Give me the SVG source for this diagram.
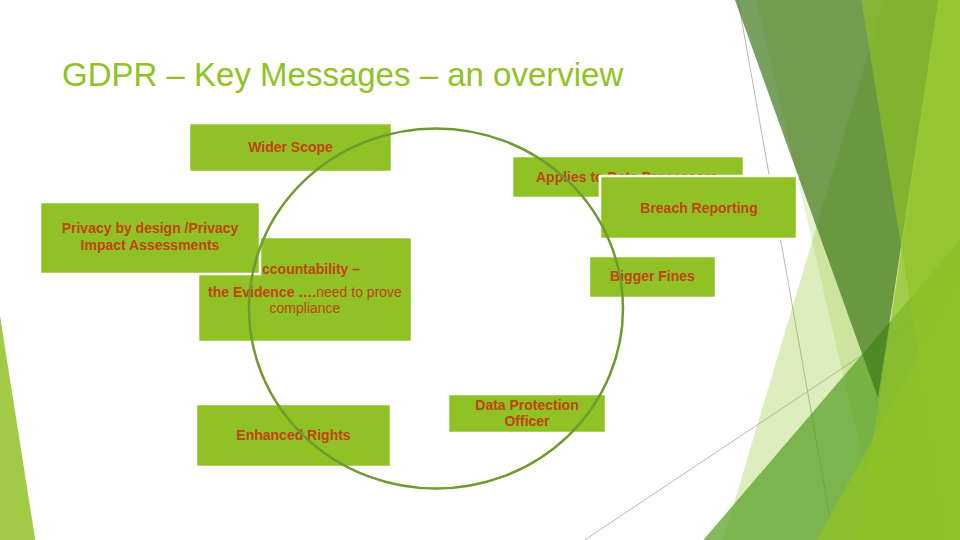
<svg xmlns="http://www.w3.org/2000/svg" width="960" height="540" viewBox="0 0 960 540">
  <style>
    .a1 { fill: #90C226; }
    .box { fill: #90C226; stroke: #FFFFFF; stroke-width: 2.5; }
    .lbl { font-family: "Liberation Sans", Arial, sans-serif; font-size: 14px; font-weight: bold; fill: #C0440E; text-anchor: middle; }
    .thin { font-weight: normal; }
    .title { font-family: "Liberation Sans", Arial, sans-serif; font-size: 33px; fill: #90C226; }
    .guide { stroke: #A6A6A6; stroke-width: 0.8; fill: none; }
    .ring { fill: none; stroke: #6E9B2F; stroke-width: 2.5; }
  </style>
  <rect width="960" height="540" fill="#FFFFFF"/>
  <g id="theme">
    <line class="guide" x1="737.9" y1="-1" x2="833.9" y2="540"/>
    <line class="guide" x1="584.7" y1="540" x2="960" y2="289.9"/>
    <polygon class="a1" fill-opacity="0.3" points="884,0 960,0 960,540 723,540"/>
    <polygon class="a1" fill-opacity="0.2" points="756.2,0 960,0 960,540 881.3,540"/>
    <polygon fill="#54A021" fill-opacity="0.72" points="960,240 960,540 703.3,540"/>
    <polygon fill="#3F7819" fill-opacity="0.7" points="735,0 938.5,0 878,398"/>
    <polygon class="a1" fill-opacity="0.7" points="938.5,0 960,0 960,540 858.2,540"/>
    <polygon class="a1" fill-opacity="0.65" points="861.3,0 960,0 960,540 948.7,540"/>
    <polygon class="a1" fill-opacity="0.8" points="960,282.7 960,540 816.7,540"/>
    <polygon class="a1" fill-opacity="0.85" points="0,316 35.3,540 0,540"/>
  </g>
  <text id="title" class="title" x="62" y="86">GDPR – Key Messages – an overview</text>
  <g id="node-wider-scope">
    <rect class="box" x="189" y="123" width="203" height="49"/>
    <text class="lbl" x="290.5" y="152">Wider Scope</text>
  </g>
  <g id="node-applies">
    <rect class="box" x="512" y="156" width="232" height="42"/>
    <text class="lbl" x="627" y="182">Applies to Data Processors</text>
  </g>
  <g id="node-breach">
    <rect class="box" x="600" y="176" width="197" height="63"/>
    <text class="lbl" x="699" y="213">Breach Reporting</text>
  </g>
  <g id="node-accountability">
    <rect class="box" x="198" y="237" width="214" height="105"/>
    <text class="lbl" x="306" y="274">Accountability –</text>
    <text class="lbl" x="305" y="297"><tspan>the Evidence ….</tspan><tspan class="thin">need to prove</tspan></text>
    <text class="lbl thin" x="305" y="313">compliance</text>
  </g>
  <g id="node-privacy">
    <rect class="box" x="40" y="202" width="220" height="72"/>
    <text class="lbl" x="150" y="233">Privacy by design /Privacy</text>
    <text class="lbl" x="150" y="250">Impact Assessments</text>
  </g>
  <g id="node-fines">
    <rect class="box" x="589" y="256" width="127" height="42"/>
    <text class="lbl" x="652.5" y="281">Bigger Fines</text>
  </g>
  <g id="node-rights">
    <rect class="box" x="196" y="404" width="195" height="63"/>
    <text class="lbl" x="293.5" y="439.5">Enhanced Rights</text>
  </g>
  <g id="node-dpo">
    <rect class="box" x="448" y="394" width="158" height="39"/>
    <text class="lbl" x="527" y="409.5">Data Protection</text>
    <text class="lbl" x="527" y="426">Officer</text>
  </g>
  <g id="connectors">
    <ellipse class="ring" cx="436" cy="308.5" rx="187" ry="180"/>
  </g>
</svg>
